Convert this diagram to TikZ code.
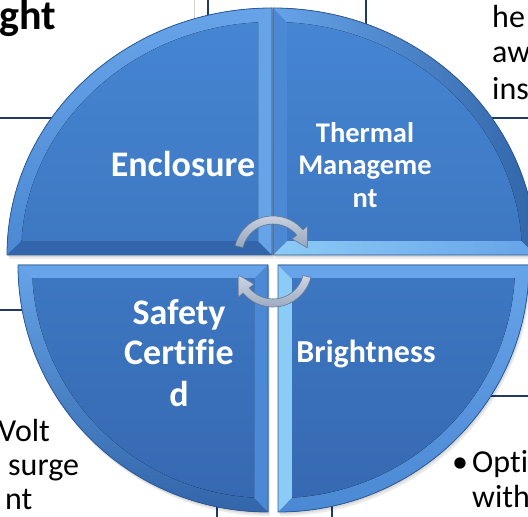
\documentclass[tikz,border=0pt]{standalone}
\usepackage{fontspec}
\setmainfont{Carlito}[Ligatures=CommonOff]
\definecolor{qedge}{HTML}{2C5A98}
\definecolor{boxblue}{HTML}{1F3A66}
\definecolor{grayline}{HTML}{D4D4D4}
\definecolor{innertop}{HTML}{4585D2}
\definecolor{innerbot}{HTML}{3669B2}
\definecolor{bandlight}{HTML}{66A3E8}
\definecolor{bandmid}{HTML}{4C89D4}
\definecolor{banddark}{HTML}{3265A9}
\definecolor{bandpale}{HTML}{8CCBF6}
\definecolor{arrowlight}{HTML}{CDD6E4}
\definecolor{arrowdark}{HTML}{96A6BE}
\definecolor{arrowedge}{HTML}{71829E}
\begin{document}
\def\qUL{(272,262) -- (7,262) arc[start angle=180,end angle=90,x radius=265pt,y radius=247pt] -- cycle}
\def\qUR{(273,262) -- (273,509) arc[start angle=90,end angle=0,x radius=263pt,y radius=247pt] -- cycle}
\def\qLL{(268,252) -- (18,252) arc[start angle=180,end angle=270,x radius=250pt,y radius=247pt] -- cycle}
\def\qLR{(278,252) -- (278,5) arc[start angle=270,end angle=360,x radius=251pt,y radius=247pt] -- cycle}
\begin{tikzpicture}[x=1pt,y=1pt,
  qline/.style={draw=qedge,line width=0.8pt},
  shadowfill/.style={fill=black,opacity=0.08},
  innerfill/.style={top color=innertop,bottom color=innerbot},
  lbl/.style={text=white,font=\bfseries,inner sep=0pt,anchor=base},
  bgtext/.style={text=black,inner sep=0pt,anchor=base west,font=\fontsize{32}{38}\selectfont},
  boxline/.style={draw=boxblue,line width=1.1pt,fill=white},
  cyc/.style={draw=arrowedge,line width=0.6pt,top color=arrowlight,bottom color=arrowdark}]
\useasboundingbox (0,0) rectangle (528,517);
\fill[white] (0,0) rectangle (528,517);
% background text boxes
\draw[boxline] (-5,399) rectangle (208,525);
\draw[grayline,line width=1pt] (194,399) -- (194,520);
\draw[boxline] (366,399) rectangle (540,525);
\draw[boxline] (-5,-5) rectangle (217,207);
\draw[boxline] (332,-5) rectangle (540,121);
% background texts
\node[bgtext,font=\bfseries\fontsize{42}{46}\selectfont] (ght) at (-1,487) {ght};
\node[bgtext] (he) at (492,489) {he};
\node[bgtext] (aw) at (492,454) {aw};
\node[bgtext] (ins) at (492,417) {ins};
\node[bgtext] (volt) at (-2,75) {Volt};
\node[bgtext] (surge) at (8,41) {surge};
\node[bgtext] (nt2) at (5,7) {nt};
\node[bgtext] (bul) at (452,44) {\textbullet};
\node[bgtext] (opti) at (472,44) {Opti};
\node[bgtext] (with) at (472,9) {with};
% shadows
\foreach \s in {2,4} {
  \fill[shadowfill,shift={(0.5*\s,-\s)}] \qUL;
  \fill[shadowfill,shift={(0.5*\s,-\s)}] \qUR;
  \fill[shadowfill,shift={(0.5*\s,-\s)}] \qLL;
  \fill[shadowfill,shift={(0.5*\s,-\s)}] \qLR;
}
% ---------- upper left
\fill[top color=bandlight,bottom color=bandmid] \qUL;
\fill[banddark] (272,262) -- (7,262) -- (21.5,276) -- (258,276) -- cycle;
\fill[bandlight] (272,262) -- (258,276) -- (258,494.6) -- (272,509) -- cycle;
\begin{scope}
  \clip (258,276) rectangle (0,517);
  \fill[innerfill] (272,262) ellipse [x radius=251pt,y radius=233pt];
\end{scope}
\draw[qline] \qUL;
% ---------- upper right
\fill[left color=bandlight,right color=banddark] \qUR;
\fill[bandmid] (273,262) -- (287,276) -- (287,494.6) -- (273,509) -- cycle;
\fill[left color=bandpale,right color=bandlight] (273,262) -- (536,262) -- (521.5,276) -- (287,276) -- cycle;
\begin{scope}
  \clip (287,276) rectangle (540,517);
  \fill[innerfill] (273,262) ellipse [x radius=249pt,y radius=233pt];
\end{scope}
\draw[qline] \qUR;
% ---------- lower left
\fill[top color=bandlight,bottom color=banddark] \qLL;
\fill[bandlight] (268,252) -- (18,252) -- (32.4,238) -- (254,238) -- cycle;
\fill[bandmid] (268,252) -- (254,238) -- (254,19.4) -- (268,5) -- cycle;
\begin{scope}
  \clip (254,238) rectangle (0,0);
  \fill[innerfill] (268,252) ellipse [x radius=236pt,y radius=233pt];
\end{scope}
\draw[qline] \qLL;
% ---------- lower right
\fill[top color=bandlight,bottom color=bandmid] \qLR;
\fill[bandpale] (278,252) -- (292,238) -- (292,19.4) -- (278,5) -- cycle;
\fill[bandlight] (278,252) -- (529,252) -- (514.6,238) -- (292,238) -- cycle;
\begin{scope}
  \clip (292,238) rectangle (540,0);
  \fill[innerfill] (278,252) ellipse [x radius=237pt,y radius=233pt];
\end{scope}
\draw[qline] \qLR;
% labels
\node[lbl,font=\bfseries\fontsize{36}{40}\selectfont] (encl) at (183,340) {Enclosure};
\node[lbl,font=\bfseries\fontsize{28.5}{33}\selectfont] (therm1) at (365,374) {Thermal};
\node[lbl,font=\bfseries\fontsize{28.5}{33}\selectfont] (therm2) at (365,342) {Manageme};
\node[lbl,font=\bfseries\fontsize{28.5}{33}\selectfont] (therm3) at (365,309) {nt};
\node[lbl,font=\bfseries\fontsize{36}{40}\selectfont] (safe1) at (179,192) {Safety};
\node[lbl,font=\bfseries\fontsize{36}{40}\selectfont] (safe2) at (179,152) {Certifie};
\node[lbl,font=\bfseries\fontsize{36}{40}\selectfont] (safe3) at (179,110) {d};
\node[lbl,font=\bfseries\fontsize{32}{36}\selectfont] (bright) at (366,154) {Brightness};
% cycle arrows
\begin{scope}[shift={(273,262)}]
  \filldraw[cyc] (166:39pt) arc[start angle=166,end angle=40,radius=39pt]
    -- (40:45pt) -- (12:35pt) -- (40:25pt) -- (40:31pt)
    arc[start angle=40,end angle=166,radius=31pt] -- cycle;
\end{scope}
\begin{scope}[shift={(273,249)}]
  \filldraw[cyc] (-14:39pt) arc[start angle=-14,end angle=-140,radius=39pt]
    -- (-140:45pt) -- (-168:35pt) -- (-140:25pt) -- (-140:31pt)
    arc[start angle=-140,end angle=-14,radius=31pt] -- cycle;
\end{scope}
\end{tikzpicture}
\end{document}
